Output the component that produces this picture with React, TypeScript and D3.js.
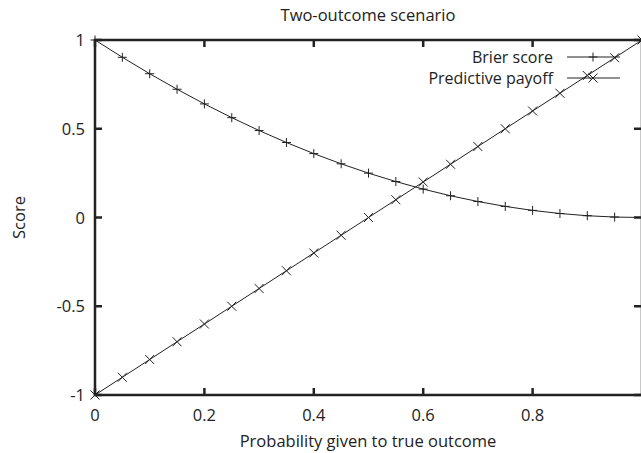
import React, { useEffect, useRef } from "react";
import * as d3 from "d3";

// probability given to the true outcome
const probs = [
  0, 0.05, 0.1, 0.15, 0.2, 0.25, 0.3, 0.35, 0.4, 0.45, 0.5, 0.55, 0.6, 0.65, 0.7,
  0.75, 0.8, 0.85, 0.9, 0.95, 1,
];
const brier = [
  1, 0.9025, 0.81, 0.7225, 0.64, 0.5625, 0.49, 0.4225, 0.36, 0.3025, 0.25,
  0.2025, 0.16, 0.1225, 0.09, 0.0625, 0.04, 0.0225, 0.01, 0.0025, 0,
];
const payoff = [
  -1, -0.9, -0.8, -0.7, -0.6, -0.5, -0.4, -0.3, -0.2, -0.1, 0, 0.1, 0.2, 0.3,
  0.4, 0.5, 0.6, 0.7, 0.8, 0.9, 1,
];
const xTicks = [0, 0.2, 0.4, 0.6, 0.8];
const yTicks = [-1, -0.5, 0, 0.5, 1];
const seriesNames = ["Brier score", "Predictive payoff"];

const W = 641;
const H = 453;
const FONT = "'Open Sans', sans-serif";
const FS = "16.5px";

const App = () => {
  const ref = useRef<SVGSVGElement>(null);

  useEffect(() => {
    const svg = d3.select(ref.current);
    svg.selectAll("*").remove();

    const left = 95;
    const right = 642;
    const top = 40;
    const bottom = 395;

    const x = d3.scaleLinear().domain([0, 1]).range([left, right]);
    const y = d3.scaleLinear().domain([-1, 1]).range([bottom, top]);
    const ink = "#222";

    const label = (g: any) =>
      g.style("font-family", FONT).style("font-size", FS).attr("fill", ink);

    // title
    svg
      .append("text")
      .attr("x", (left + 641) / 2)
      .attr("y", 21)
      .attr("text-anchor", "middle")
      .call(label)
      .text("Two-outcome scenario");

    // border + ticks
    const axes = svg.append("g").attr("stroke", ink).attr("stroke-width", 2.5);
    axes
      .append("rect")
      .attr("x", left)
      .attr("y", top)
      .attr("width", right - left)
      .attr("height", bottom - top)
      .attr("fill", "none");

    const tl = 7;
    xTicks.forEach((t) => {
      axes.append("line").attr("x1", x(t)).attr("x2", x(t)).attr("y1", bottom).attr("y2", bottom - tl);
      axes.append("line").attr("x1", x(t)).attr("x2", x(t)).attr("y1", top).attr("y2", top + tl);
    });
    yTicks.forEach((t) => {
      axes.append("line").attr("x1", left).attr("x2", left + tl).attr("y1", y(t)).attr("y2", y(t));
      axes.append("line").attr("x1", 641).attr("x2", 641 - tl).attr("y1", y(t)).attr("y2", y(t));
    });

    // tick labels
    svg
      .append("g")
      .selectAll("text")
      .data(xTicks)
      .join("text")
      .attr("x", (d) => x(d))
      .attr("y", 421)
      .attr("text-anchor", "middle")
      .call(label)
      .text((d) => String(d));

    svg
      .append("g")
      .selectAll("text")
      .data(yTicks)
      .join("text")
      .attr("x", 85)
      .attr("y", (d) => y(d) + 6)
      .attr("text-anchor", "end")
      .call(label)
      .text((d) => String(d));

    // axis titles
    svg
      .append("text")
      .attr("x", (left + 641) / 2)
      .attr("y", 447)
      .attr("text-anchor", "middle")
      .call(label)
      .text("Probability given to true outcome");

    svg
      .append("text")
      .attr("transform", `translate(25, ${y(0)}) rotate(-90)`)
      .attr("text-anchor", "middle")
      .call(label)
      .text("Score");

    const line = d3
      .line<number>()
      .x((_, i) => x(probs[i]))
      .y((d) => y(d));

    const plus = (g: any, cx: number, cy: number) => {
      const s = 4.5;
      g.append("path").attr("d", `M${cx - s},${cy}H${cx + s}M${cx},${cy - s}V${cy + s}`);
    };
    const cross = (g: any, cx: number, cy: number) => {
      const s = 4.5;
      g.append("path").attr(
        "d",
        `M${cx - s},${cy - s}L${cx + s},${cy + s}M${cx - s},${cy + s}L${cx + s},${cy - s}`
      );
    };

    const plot = svg.append("g").attr("stroke", ink).attr("stroke-width", 1).attr("fill", "none");
    plot.append("path").attr("d", line(brier));
    plot.append("path").attr("d", line(payoff));
    brier.forEach((v, i) => plus(plot, x(probs[i]), y(v)));
    payoff.forEach((v, i) => cross(plot, x(probs[i]), y(v)));

    // legend
    const legY = [57, 78];
    const markers = [plus, cross];
    seriesNames.forEach((name, i) => {
      svg
        .append("text")
        .attr("x", 553)
        .attr("y", legY[i] + 5.5)
        .attr("text-anchor", "end")
        .call(label)
        .style("font-size", "16px")
        .text(name);
      const g = svg.append("g").attr("stroke", ink).attr("stroke-width", 1).attr("fill", "none");
      g.append("line").attr("x1", 567).attr("x2", 620).attr("y1", legY[i]).attr("y2", legY[i]);
      markers[i](g, 593, legY[i]);
    });
  }, []);

  return (
    <svg
      ref={ref}
      width={W}
      height={H}
      style={{ position: "fixed", left: 0, top: 0, background: "#fff" }}
    />
  );
};

export default App;
